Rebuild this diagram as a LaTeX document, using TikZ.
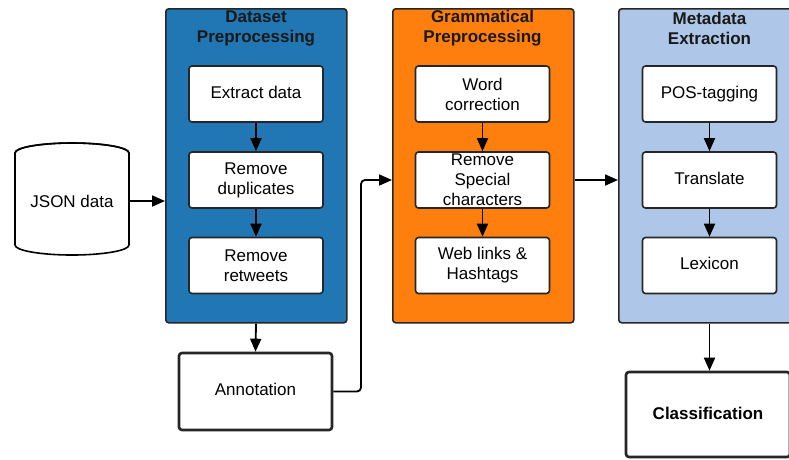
\documentclass[tikz,border=0pt]{standalone}
\usepackage{fontspec}
\setmainfont{Liberation Sans}
\usetikzlibrary{arrows.meta}
\definecolor{dsblue}{HTML}{2077B4}
\definecolor{gporange}{HTML}{FF7F0E}
\definecolor{melight}{HTML}{AEC7E8}
\tikzset{
  txt/.style={font=\fontsize{17}{20}\selectfont, align=center},
  ttl/.style={font=\bfseries\fontsize{17}{20}\selectfont, align=center, text=black!90},
  oneline/.style={text height=12pt, text depth=4pt},
  stage/.style={draw=black!85, line width=1.6pt, rounded corners=3pt, anchor=north west,
                inner sep=0pt, minimum width=181pt, minimum height=314pt},
  stepbox/.style={txt, draw=black!85, fill=white, line width=1.6pt, rounded corners=3pt,
                  inner sep=0pt, minimum width=134pt, minimum height=56pt},
  bigbox/.style={txt, draw=black!85, fill=white, line width=2.6pt, rounded corners=3pt,
                 inner sep=0pt},
  conn/.style={draw=black, line width=1.8pt, -{Triangle[length=13pt,width=11pt]}},
}
\begin{document}
\begin{tikzpicture}[x=1pt, y=-1pt]
  \clip (0,0) rectangle (789,459);
  \fill[white] (0,0) rectangle (789,459);

  % data source cylinder
  \draw[line width=1.6pt, fill=white]
    (15,153) -- (15,245) arc[start angle=180, end angle=360, x radius=57, y radius=-10]
    -- (129,153) arc[start angle=0, end angle=180, x radius=57, y radius=-10] -- cycle;
  \draw[line width=1.6pt] (15,153) arc[start angle=180, end angle=360, x radius=57, y radius=10];
  \node[txt, minimum width=114pt, minimum height=92pt, inner sep=0pt] (json) at (72,201) {JSON data};

  % three processing stages
  \node[stage, fill=dsblue] (dsp) at (165,8) {};
  \node[stage, fill=gporange] (gp) at (392,8) {};
  \node[stage, fill=melight, minimum width=183pt] (me) at (618,8) {};

  \node[ttl] (dspt) at (256,28.5) {Dataset\\Preprocessing};
  \node[ttl] (gpt) at (482.5,28.5) {Grammatical\\Preprocessing};
  \node[ttl] (met) at (709.5,28.5) {Metadata\\Extraction};

  % steps of each stage
  \node[stepbox, oneline] (d1) at (256,94) {Extract data};
  \node[stepbox] (d2) at (256,180) {Remove\\duplicates};
  \node[stepbox] (d3) at (256,265.5) {Remove\\retweets};

  \node[stepbox] (g1) at (482.5,94) {Word\\correction};
  \node[stepbox] (g2) at (482.5,180) {Remove\\Special\\characters};
  \node[stepbox] (g3) at (482.5,265.5) {Web links \&\\Hashtags};

  \node[stepbox, oneline] (m1) at (709.5,94) {POS-tagging};
  \node[stepbox, oneline] (m2) at (709.5,180) {Translate};
  \node[stepbox, oneline] (m3) at (709.5,265.5) {Lexicon};

  \draw[conn] (d1) -- (d2);
  \draw[conn] (d2) -- (d3);
  \draw[conn] (g1) -- (g2);
  \draw[conn] (g2) -- (g3);
  \draw[conn] (m1) -- (m2);
  \draw[conn] (m2) -- (m3);

  % annotation and classification
  \node[bigbox, oneline, minimum width=153pt, minimum height=77pt] (ann) at (255.5,391.5) {Annotation};
  \node[bigbox, font=\bfseries\fontsize{17}{20}\selectfont, text height=12pt, text depth=2.5pt,
        minimum width=164pt, minimum height=85pt] (cls) at (708,414.5) {Classification};

  % flow between stages
  \draw[conn] (json.east) -- (json.east -| dsp.west);
  \draw[conn] (dsp.south -| d3) -- (ann.north);
  \coordinate (jog) at (361,180);
  \draw[conn, rounded corners=4pt] (ann.east) -| (jog) -- (jog -| gp.west);
  \draw[conn] (gp.east |- jog) -- (me.west |- jog);
  \draw[conn] (me.south -| m3) -- (cls.north -| m3);
\end{tikzpicture}
\end{document}
